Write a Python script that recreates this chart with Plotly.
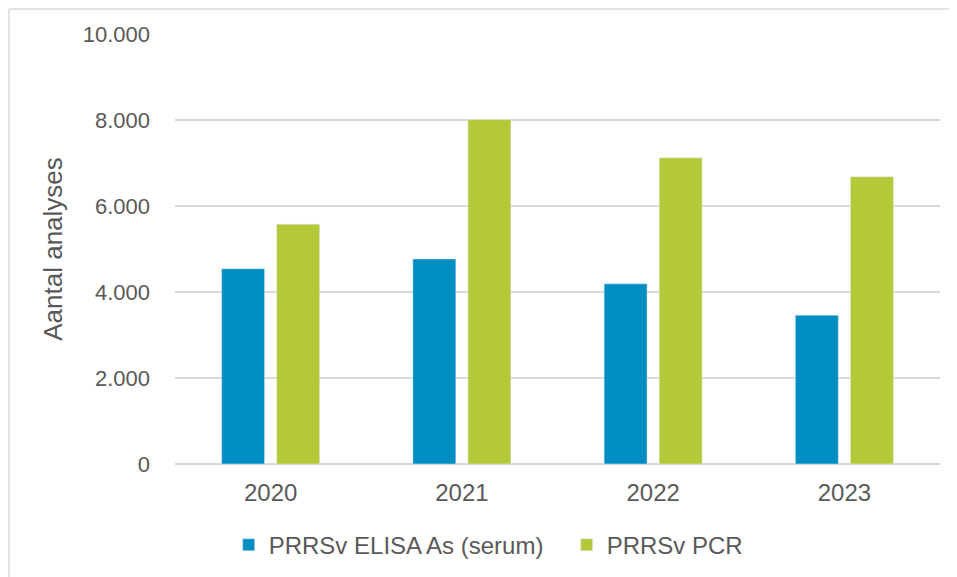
import plotly.graph_objects as go

years = ["2020", "2021", "2022", "2023"]
elisa = [4540, 4770, 4190, 3460]
pcr = [5575, 8010, 7120, 6680]
y_ticks = [0, 2000, 4000, 6000, 8000, 10000]
y_labels = ["0", "2.000", "4.000", "6.000", "8.000", "10.000"]

fig = go.Figure()
fig.add_trace(go.Bar(x=years, y=elisa, name="PRRSv ELISA As (serum)",
                     marker=dict(color="#008DC2")))
fig.add_trace(go.Bar(x=years, y=pcr, name="PRRSv PCR",
                     marker=dict(color="#B5C938")))

# page body has an 8px margin, so the figure is a bit smaller
fig.update_layout(
    width=949, height=569,
    margin=dict(l=167, r=17, t=26, b=113),
    paper_bgcolor="white", plot_bgcolor="white",
    font=dict(family="Liberation Sans, Arial", size=23, color="#595959"),
    barmode="group", bargap=0.424, bargroupgap=0.22,
    legend=dict(orientation="h", x=0.512, xanchor="center",
                yref="container", y=0.056, yanchor="middle",
                font=dict(size=24), itemwidth=30, entrywidth=293, traceorder="normal"),
    shapes=[dict(type="line", xref="paper", yref="paper", x0=-0.217, x1=-0.217, y0=-0.3, y1=1.058,
                 line=dict(color="#d9d9d9", width=1.5)),
            dict(type="line", xref="paper", yref="paper", x0=-0.217, x1=1.03, y0=1.058, y1=1.058,
                 line=dict(color="#d9d9d9", width=1.5))],
)
fig.update_yaxes(range=[0, 10000], tickvals=y_ticks, ticktext=y_labels,
                 showgrid=True, gridcolor="#d9d9d9", gridwidth=2,
                 zeroline=True, zerolinecolor="#d9d9d9", zerolinewidth=2,
                 ticklabelstandoff=24, tickfont=dict(size=22),
                 title=dict(text="Aantal analyses", font=dict(size=26), standoff=12))
fig.update_xaxes(showline=False, ticks="", ticklabelstandoff=12, tickfont=dict(size=24))

fig.write_html("out.html")
